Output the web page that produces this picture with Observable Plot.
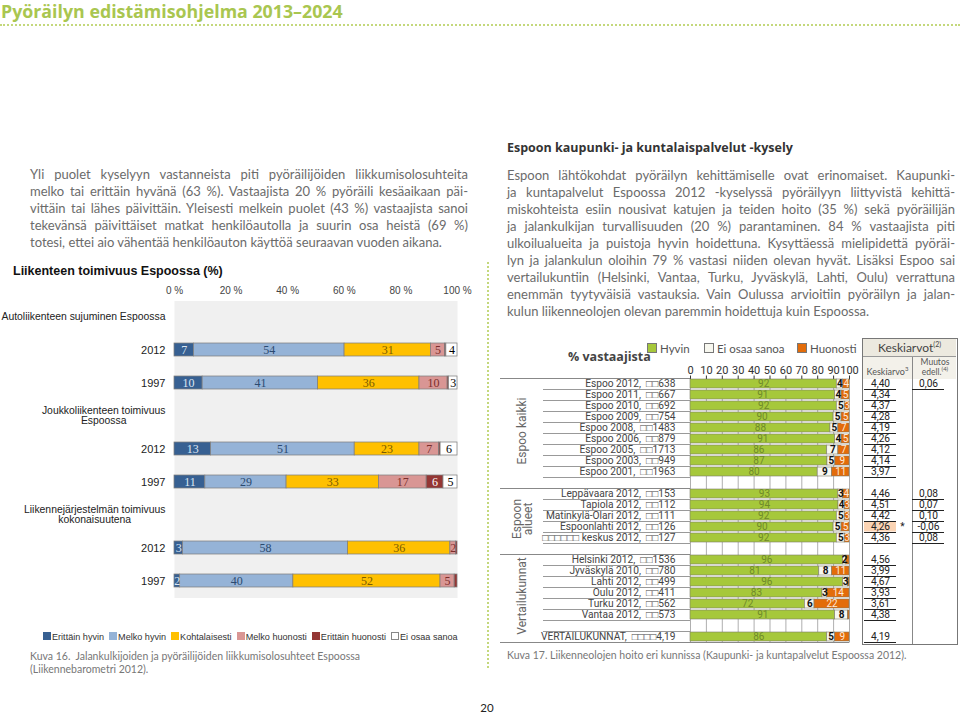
<!DOCTYPE html>
<html><head><meta charset="utf-8">
<script src="https://cdn.jsdelivr.net/npm/d3@7"></script>
<script src="https://cdn.jsdelivr.net/npm/@observablehq/plot@0.6"></script>
<style>
html,body{margin:0;padding:0;background:#fff;}
#page{position:relative;width:960px;height:714px;overflow:hidden;font-family:Lato,"Open Sans",sans-serif;}
.abs{position:absolute;}
.title{left:1px;top:1px;font:700 17.8px "Open Sans";color:#a9c650;line-height:20px;white-space:nowrap;}
.hdots{left:0;top:24px;width:960px;height:0;border-top:2px dotted #c4d87c;}
.vdots{left:487px;top:262px;height:406px;width:0;border-left:2px dotted #c4d87c;}
.para{font-size:13px;line-height:17px;color:#6b6b6b;}
.para div{white-space:nowrap;text-align:justify;text-align-last:justify;}
.para div.last{text-align:left;text-align-last:left;}
.cap{font-size:10.5px;line-height:13px;color:#777;white-space:nowrap;}
.ltitle{left:13px;top:264px;font:700 12.5px "Liberation Sans";color:#111;white-space:nowrap;}
.lleg{left:43px;top:632px;display:flex;gap:5px;font:9.1px "Liberation Sans";color:#333;white-space:nowrap;}
.lleg span i{display:inline-block;width:6px;height:6px;border:1px solid #888;margin-right:1px;vertical-align:0px;}
.rhead{left:507px;top:139px;font:700 12.5px "Open Sans";color:#333;white-space:nowrap;}
.rleg{top:342px;font:11.5px Lato;color:#555;white-space:nowrap;}
.rleg i{display:inline-block;width:8px;height:8px;border:1px solid #777;margin-right:3px;vertical-align:0px;}
.kbox{left:862px;top:338px;width:96px;height:307px;border:1.5px solid #777;box-sizing:border-box;}
</style></head>
<body><div id="page">
<div class="abs title">Pyöräilyn edistämisohjelma 2013–2024</div>
<div class="abs hdots"></div>
<div class="abs vdots"></div>

<div class="abs para" style="left:30px;top:166px;width:438px;">
<div>Yli puolet kyselyyn vastanneista piti pyöräilijöiden liikkumisolosuhteita</div>
<div>melko tai erittäin hyvänä (63 %). Vastaajista 20 % pyöräili kesäaikaan päi-</div>
<div>vittäin tai lähes päivittäin. Yleisesti melkein puolet (43 %) vastaajista sanoi</div>
<div>tekevänsä päivittäiset matkat henkilöautolla ja suurin osa heistä (69 %)</div>
<div class="last">totesi, ettei aio vähentää henkilöauton käyttöä seuraavan vuoden aikana.</div>
</div>

<div class="abs rhead">Espoon kaupunki- ja kuntalaispalvelut -kysely</div>
<div class="abs para" style="left:507px;top:167px;width:448px;">
<div>Espoon lähtökohdat pyöräilyn kehittämiselle ovat erinomaiset. Kaupunki-</div>
<div>ja kuntapalvelut Espoossa 2012 -kyselyssä pyöräilyyn liittyvistä kehittä-</div>
<div>miskohteista esiin nousivat katujen ja teiden hoito (35 %) sekä pyöräilijän</div>
<div>ja jalankulkijan turvallisuuden (20 %) parantaminen. 84 % vastaajista piti</div>
<div>ulkoilualueita ja puistoja hyvin hoidettuna. Kysyttäessä mielipidettä pyöräi-</div>
<div>lyn ja jalankulun oloihin 79 % vastasi niiden olevan hyvät. Lisäksi Espoo sai</div>
<div>vertailukuntiin (Helsinki, Vantaa, Turku, Jyväskylä, Lahti, Oulu) verrattuna</div>
<div>enemmän tyytyväisiä vastauksia. Vain Oulussa arvioitiin pyöräilyn ja jalan-</div>
<div class="last">kulun liikenneolojen olevan paremmin hoidettuja kuin Espoossa.</div>
</div>

<div class="abs ltitle">Liikenteen toimivuus Espoossa (%)</div>
<div class="abs" id="leftChart" style="left:0;top:280px;"></div>
<div class="abs lleg" id="leftLegend"></div>
<div class="abs cap" style="left:30px;top:650px;">Kuva 16.&nbsp; Jalankulkijoiden ja pyöräilijöiden liikkumisolosuhteet Espoossa<br>(Liikennebarometri 2012).</div>

<div class="abs" style="left:568px;top:348px;font:700 12.5px 'Open Sans';color:#444;">% vastaajista</div>
<div id="rightLegend"></div>
<div class="abs kbox"></div>
<div class="abs" style="left:863px;top:339px;width:93px;height:17px;background:#ece9df;border-bottom:1px solid #999;font:12px Lato;color:#444;text-align:center;line-height:18px;">Keskiarvot<sup style="font-size:7px;line-height:0;">(2)</sup></div>
<div class="abs" style="left:863px;top:357px;width:93px;height:22px;background:#f3f1ea;"></div>
<div class="abs" style="left:912px;top:357px;width:0;height:287px;border-left:1px solid #888;"></div>
<div class="abs" style="left:863px;top:367px;width:49px;text-align:center;font:9px/10px Lato;color:#555;">Keskiarvo<sup style="font-size:6px;line-height:0;">3</sup></div>
<div class="abs" style="left:913px;top:358px;width:44px;text-align:center;font:8.5px/9.5px Lato;color:#555;">Muutos<br>edell.<sup style="font-size:6px;line-height:0;">(4)</sup></div>
<div class="abs" id="rightChart" style="left:500px;top:330px;"></div>
<div class="abs" id="tableChart" style="left:862px;top:330px;"></div>
<div class="abs cap" style="left:507px;top:649px;">Kuva 17. Liikenneolojen hoito eri kunnissa (Kaupunki- ja kuntapalvelut Espoossa 2012).</div>

<div class="abs" style="left:477px;top:702px;width:20px;text-align:center;font:11.5px/11px Lato;color:#222;">20</div>
</div>
<script>
// ---------- Left chart data (Liikennebarometri) ----------
const leftGroups = ["Autoliikenteen sujuminen Espoossa", "Joukkoliikenteen toimivuus\nEspoossa", "Liikennejärjestelmän toimivuus\nkokonaisuutena"];
const leftYears = ["2012", "1997"];
const answerCats = ["Erittäin hyvin", "Melko hyvin", "Kohtalaisesti", "Melko huonosti", "Erittäin huonosti", "Ei osaa sanoa"];
// order of bars: auto 2012, auto 1997, jouk 2012, jouk 1997, liik 2012, liik 1997
const erittainHyvin    = [7, 10, 13, 11, 3, 2];
const melkoHyvin       = [54, 41, 51, 29, 58, 40];
const kohtalaisesti    = [31, 36, 23, 33, 36, 52];
const melkoHuonosti    = [5, 10, 7, 17, 2, 5];
const erittainHuonosti = [0.5, 0.5, 0.5, 6, 0.5, 1];
const eiOsaaSanoa      = [4, 3, 6, 5, 0, 0];
const leftTicks = [0, 0.2, 0.4, 0.6, 0.8, 1];

// ---------- Right chart data (Kaupunki- ja kuntapalvelut) ----------
const rowLabels = ["Espoo 2012,  □□638","Espoo 2011,  □□667","Espoo 2010,  □□692","Espoo 2009,  □□754","Espoo 2008,  □□1483","Espoo 2006,  □□879","Espoo 2005,  □□1713","Espoo 2003,  □□949","Espoo 2001,  □□1963","",
  "Leppävaara 2012,  □□153","Tapiola 2012,  □□112","Matinkylä-Olari 2012,  □□111","Espoonlahti 2012,  □□126","□□□□□□ keskus 2012,  □□127","",
  "Helsinki 2012,  □□1536","Jyväskylä 2010,  □□780","Lahti 2012,  □□499","Oulu 2012,  □□411","Turku 2012,  □□562","Vantaa 2012,  □□573","","VERTAILUKUNNAT,  □□□□4,19"];
const rowGroups = ["Espoo kaikki","Espoo kaikki","Espoo kaikki","Espoo kaikki","Espoo kaikki","Espoo kaikki","Espoo kaikki","Espoo kaikki","Espoo kaikki","Espoo kaikki",
  "Espoon\nalueet","Espoon\nalueet","Espoon\nalueet","Espoon\nalueet","Espoon\nalueet","Espoon\nalueet",
  "Vertailukunnat","Vertailukunnat","Vertailukunnat","Vertailukunnat","Vertailukunnat","Vertailukunnat","Vertailukunnat","Vertailukunnat"];
const satisfCats = ["Hyvin", "Ei osaa sanoa", "Huonosti"];
const hyvin       = [92,91,92,90,88,91,86,87,80,null, 93,94,92,90,92,null, 96,81,96,83,72,91,null,86];
const eiOsaa      = [4,4,5,5,5,4,7,5,9,null, 3,4,5,5,5,null, 2,8,3,3,6,8,null,5];
const huonosti    = [4,5,3,5,7,5,7,9,11,null, 4,3,3,5,3,null, 2,11,1,14,22,1,null,9];
const keskiarvo   = [4.40,4.34,4.37,4.28,4.19,4.26,4.12,4.14,3.97,null, 4.46,4.51,4.42,4.26,4.36,null, 4.56,3.99,4.67,3.93,3.61,4.38,null,4.19];
const muutos      = [0.06,null,null,null,null,null,null,null,null,null, 0.08,0.07,0.10,-0.06,0.08,null, null,null,null,null,null,null,null,null];
const merkitseva  = [false,false,false,false,false,false,false,false,false,false, false,false,false,true,false,false, false,false,false,false,false,false,false,false];
const rightTicks = d3.range(0, 101, 10);

// ---------- helpers ----------
const ctx = document.createElement("canvas").getContext("2d");
function measure(t, font) { ctx.font = font; return ctx.measureText(t).width; }
const fmt = v => v.toFixed(2).replace(".", ",");

// ---------- Left chart ----------
const leftColors = ["#376092", "#95b3d7", "#ffc000", "#d99694", "#943634", "#ffffff"];
const leftTextColors = ["#dce6f2", "#2b4a70", "#7a5a00", "#7a2e2c", "#ffffff", "#000000"];
const leftSeries = [erittainHyvin, melkoHyvin, kohtalaisesti, melkoHuonosti, erittainHuonosti, eiOsaaSanoa];
const leftIds = [];
const barIds = [];
leftGroups.forEach((g, gi) => {
  leftIds.push("G" + gi);
  leftYears.forEach(y => { leftIds.push(gi + "-" + y); barIds.push(gi + "-" + y); });
});
const leftData = [];
barIds.forEach((id, i) => {
  const total = d3.sum(leftSeries, s => s[i]);
  let acc = 0;
  answerCats.forEach((c, j) => {
    const v = leftSeries[j][i];
    if (v > 0) leftData.push({id, cat: c, value: v, x1: acc / total, x2: (acc + v) / total});
    acc += v;
  });
});
const labelSize = 10.4;
const labelFont = `${labelSize}px "Liberation Sans"`;
const leftPlot = Plot.plot({
  width: 480, height: 320,
  marginLeft: 174, marginRight: 23, marginTop: 20.5, marginBottom: 2.5,
  style: {background: "transparent", overflow: "visible", fontFamily: "Liberation Sans"},
  x: {domain: [0, 1]},
  y: {domain: leftIds, paddingInner: 0.6, paddingOuter: 0.3, axis: null},
  color: {domain: answerCats, range: leftColors},
  marks: [
    Plot.frame({fill: "#f0f0f0", stroke: "none"}),
    Plot.axisX({anchor: "top", ticks: leftTicks, tickFormat: d => `${Math.round(d * 100)} %`, tickSize: 0, tickPadding: 7, fontSize: 10, color: "#444", label: null}),
    Plot.barX(leftData, {x1: "x1", x2: "x2", y: "id", fill: "cat", stroke: "#7f7f7f", strokeWidth: 0.75}),
    ...answerCats.map((c, j) => Plot.text(leftData.filter(d => d.cat === c && d.value >= 2),
      {x: d => (d.x1 + d.x2) / 2, y: "id", text: "value", fill: leftTextColors[j], fontFamily: "Liberation Serif", fontSize: 12})),
    Plot.text(barIds, {y: d => d, text: d => d.split("-")[1], frameAnchor: "left", textAnchor: "end", dx: -9, fontSize: labelSize + 0.6, fill: "#222"}),
    ...leftGroups.map((g, gi) => {
      const w = d3.max(g.split("\n"), l => measure(l, labelFont));
      return Plot.text(["G" + gi], {y: d => d, text: () => g, frameAnchor: "left", textAnchor: "middle", dx: -9 - w / 2, lineHeight: 0.98, fontSize: labelSize, fill: "#222"});
    })
  ]
});
document.getElementById("leftChart").appendChild(leftPlot);

const lleg = document.getElementById("leftLegend");
answerCats.forEach((c, j) => {
  const s = document.createElement("span");
  s.innerHTML = `<i style="background:${leftColors[j]};border-color:${j === 5 ? "#888" : leftColors[j]}"></i>${c}`;
  lleg.appendChild(s);
});

// ---------- Right chart ----------
const rightColors = ["#a6c83b", "#f7f7ef", "#e36c0a"];
const rightTextColors = ["#6f8a2a", "#111111", "#fde9d9"];
const rightMinLabel = [0, 2, 3];
const rowIds = rowLabels.map((l, i) => "r" + i);
const rightSeries = [hyvin, eiOsaa, huonosti];
const rightData = [];
rowIds.forEach((id, i) => {
  if (hyvin[i] == null) return;
  const total = d3.sum(rightSeries, s => s[i]);
  let acc = 0;
  satisfCats.forEach((c, j) => {
    const v = rightSeries[j][i];
    if (v > 0) rightData.push({id, cat: c, value: v, x1: acc * 100 / total, x2: (acc + v) * 100 / total});
    acc += v;
  });
});
const labeledRows = rowIds.filter((id, i) => rowLabels[i] !== "");
const shortLines = rowIds.filter((id, i) => i < rowIds.length - 1 && rowGroups[i] === rowGroups[i + 1]);
const longLines = rowIds.filter((id, i) => i < rowIds.length - 1 && rowGroups[i] !== rowGroups[i + 1]);
const groupNames = Array.from(new Set(rowGroups));
const groupAnchors = groupNames.map(g => {
  const idx = rowGroups.map((gg, i) => gg === g && rowLabels[i] !== "" ? i : -1).filter(i => i >= 0);
  return {g, id: rowIds[idx[Math.floor((idx.length - 1) / 2)]]};
});

const rightPlot = Plot.plot({
  width: 360, height: 315,
  marginLeft: 190, marginRight: 11, marginTop: 48.5, marginBottom: 2.5,
  style: {background: "transparent", overflow: "visible", fontFamily: "Roboto"},
  x: {domain: [0, 100]},
  y: {domain: rowIds, paddingInner: 0.18, paddingOuter: 0.09, axis: null},
  color: {domain: satisfCats, range: rightColors},
  marks: [
    Plot.ruleX(rightTicks, {stroke: "#9a9a9a", strokeWidth: 0.8}),
    Plot.axisX({anchor: "top", ticks: rightTicks, tickSize: 4, tickPadding: 1, fontSize: 11, color: "#333", label: null}),
    Plot.barX(rightData, {x1: "x1", x2: "x2", y: "id", fill: "cat", stroke: "#7d7d6a", strokeWidth: 0.6}),
    ...satisfCats.map((c, j) => Plot.text(rightData.filter(d => d.cat === c && d.value >= rightMinLabel[j]),
      {x: d => (d.x1 + d.x2) / 2, y: "id", text: "value", fill: rightTextColors[j], fontSize: 10, fontWeight: j === 1 ? "bold" : "normal"})),
    Plot.ruleY([rowIds[0]], {y: d => d, dy: -5.5, insetLeft: -190, insetRight: 159, stroke: "#888"}),
    Plot.ruleY(shortLines, {y: d => d, dy: 5.5, insetLeft: -147, insetRight: 159, stroke: "#999"}),
    Plot.ruleY(longLines, {y: d => d, dy: 5.5, insetLeft: -190, insetRight: 159, stroke: "#888"}),
    Plot.ruleY([rowIds[rowIds.length - 1]], {y: d => d, dy: 5.5, insetLeft: -190, stroke: "#888"}),
    Plot.text(labeledRows, {y: d => d, text: d => rowLabels[rowIds.indexOf(d)], frameAnchor: "left", textAnchor: "end", dx: -15, fontSize: 10.2, fill: "#444"}),
    Plot.text(groupAnchors, {y: "id", text: "g", frameAnchor: "left", textAnchor: "middle", rotate: -90, dx: -168, dy: 3, lineHeight: 0.92, fontSize: 12, fill: "#666"})
  ]
});
document.getElementById("rightChart").appendChild(rightPlot);

const rlegX = [647, 704, 797];
const rleg = document.getElementById("rightLegend");
satisfCats.forEach((c, j) => {
  const s = document.createElement("div");
  s.className = "abs rleg";
  s.style.left = rlegX[j] + "px";
  s.innerHTML = `<i style="background:${rightColors[j]}"></i>${c}`;
  rleg.appendChild(s);
});

// ---------- Keskiarvot table ----------
const tableData = [];
rowIds.forEach((id, i) => {
  if (keskiarvo[i] != null) tableData.push({id, col: "Keskiarvo", value: keskiarvo[i], sig: merkitseva[i]});
  if (muutos[i] != null) tableData.push({id, col: "Muutos", value: muutos[i], sig: false});
});
const tablePlot = Plot.plot({
  width: 96, height: 315,
  marginLeft: 0, marginRight: 0, marginTop: 48.5, marginBottom: 2.5,
  style: {background: "transparent", overflow: "visible", fontFamily: "Roboto"},
  x: {domain: ["Keskiarvo", "Muutos"], type: "band", padding: 0, axis: null},
  y: {domain: rowIds, paddingInner: 0.18, paddingOuter: 0.09, axis: null},
  marks: [
    Plot.cell(tableData.filter(d => d.sig), {x: "col", y: "id", fill: "#fbd4b4", insetLeft: 2, insetRight: 14, insetTop: -0.5, insetBottom: -0.5}),
    Plot.text(tableData, {x: "col", y: "id", text: d => fmt(d.value), dx: -6, fontSize: 10.2, fill: "#222"}),
    Plot.text(tableData.filter(d => d.sig), {x: "col", y: "id", text: () => "*", dx: 16, fontSize: 10.2, fill: "#222"}),
    Plot.tickY(tableData, {x: "col", y: "id", dy: 5.5, insetLeft: 2, insetRight: 14, stroke: "#222"})
  ]
});
document.getElementById("tableChart").appendChild(tablePlot);
</script>
</body></html>
